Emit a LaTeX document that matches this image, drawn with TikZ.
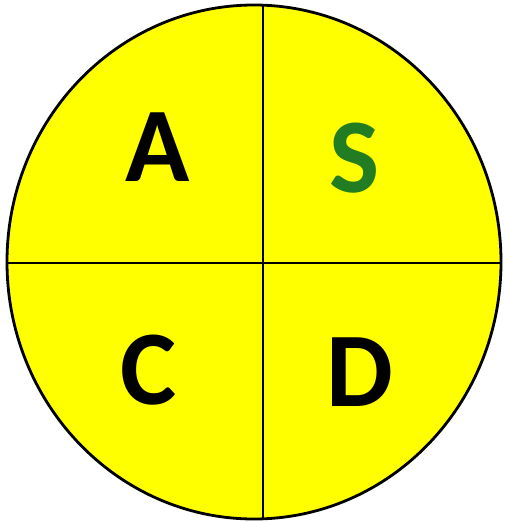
\documentclass[tikz,border=0pt]{standalone}
\usepackage{fontspec}
\setmainfont{Carlito}
\definecolor{discyellow}{RGB}{255, 255, 0}
\definecolor{discgreen}{RGB}{34, 125, 34}
\usetikzlibrary{positioning}

\begin{document}
\begin{tikzpicture}[
        x=1pt, y=-1pt,
        every node/.style={font=\fontsize{106}{106}\selectfont\bfseries},
        disc/.style={draw=black, line width=2.8pt, fill=discyellow},
        divider/.style={draw=black, line width=2.4pt},
        letter/.style={text=black, inner sep=0pt}
      ]
      \useasboundingbox (0,0) rectangle (505,522);
      % the disc
      \draw[disc] (254,262) ellipse [x radius=247, y radius=257];
      \coordinate (top) at (263,6);
      \coordinate (bottom) at (263,518);
      \coordinate (left) at (8,263);
      \coordinate (right) at (500,263);
      \draw[divider] (top) -- (bottom);
      \draw[divider] (left) -- (right);
      % quadrant letters
      \node[letter] (a) at (158,147) {A};
      \node[letter, text=discgreen] (s) at (355,158) {S};
      \node[letter] (c) at (149,370) {C};
      \node[letter] (d) at (360,372) {D};
      \end{tikzpicture}
\end{document}
